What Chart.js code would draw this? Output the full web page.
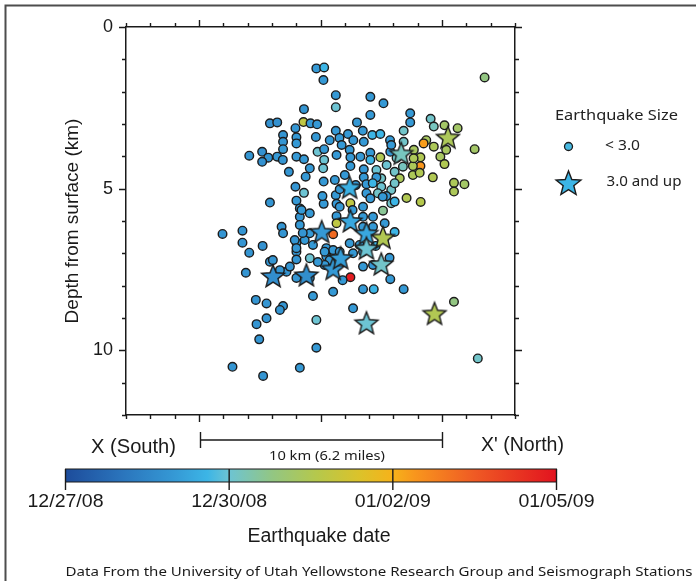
<!DOCTYPE html>
<html>
<head>
<meta charset="utf-8">
<script src="https://cdn.jsdelivr.net/npm/chart.js@4.4.1/dist/chart.umd.min.js"></script>
<style>
html, body { margin: 0; padding: 0; background: #fff; }
#wrap { position: relative; width: 696px; height: 581px; overflow: hidden; }
#quakeChart, #notes { position: absolute; left: 0; top: 0; }
</style>
</head>
<body>
<div id="wrap">
  <canvas id="quakeChart" width="696" height="581"></canvas>
  <svg id="notes" width="696" height="581" xmlns="http://www.w3.org/2000/svg"></svg>
</div>
<script>
// section from X (south) to X' (north), km along profile / depth in km
const xMin = -3, xMax = 13;
const depthMax = 12;
const depthTickValues = [0, 5, 10];

// date colour scale (days after 12/27/08)
const dateTickDays = [0, 3, 6, 9];
const dateTickLabels = ['12/27/08', '12/30/08', '01/02/09', '01/05/09'];
const colorStopDays = [0, 1, 2, 2.6, 3, 3.8, 4.6, 5.4, 6, 6.4, 7.5, 9];
const colorStopHex = ['#1d4c9b', '#2a73bb', '#3599d5', '#3cb5e6', '#6dc4d3', '#93c682',
                      '#b5c84c', '#dcc22a', '#f6b21a', '#f8961d', '#ef5a24', '#e2131f'];

// quakes below magnitude 3.0
const smallX = [4.83,5.15,5.12,11.75,5.63,7.05,5.63,7.59,4.32,7.05,
  8.69,9.53,2.92,3.22,4.30,4.59,4.86,3.97,6.50,8.69,
  9.66,10.10,10.64,3.46,4.01,5.63,6.13,6.74,7.13,7.46,
  8.42,5.78,6.35,6.78,7.86,3.46,4.01,9.35,9.24,8.42,
  2.07,2.60,2.85,3.22,2.60,3.46,4.01,4.32,4.88,5.15,
  5.15,5.66,6.20,6.23,6.64,7.05,7.46,7.87,8.84,9.11,
  9.93,10.17,11.34,10.10,9.11,8.80,8.39,4.56,5.11,6.23,
  6.78,8.05,8.80,9.08,9.62,8.26,4.39,5.13,6.78,7.50,
  10.49,10.92,10.49,3.97,7.50,7.91,4.32,5.63,6.89,7.36,
  7.71,2.92,4.01,5.13,5.66,6.23,6.75,7.05,7.91,8.54,
  9.12,7.57,4.15,4.15,5.66,6.75,7.16,7.64,5.66,3.40,
  4.15,0.97,1.79,1.79,2.07,2.62,3.46,4.01,4.01,4.01,
  4.35,4.56,4.69,4.56,5.52,6.20,6.75,7.16,6.34,6.75,
  5.24,5.52,5.24,2.92,3.60,1.93,6.23,6.75,7.16,7.87,
  6.75,7.19,8.42,5.52,4.69,2.34,2.78,3.46,3.33,2.78,
  2.37,4.83,6.34,10.49,2.48,4.83,1.38,2.64,4.15,11.47,
  5.79,7.30,7.30,8.05,7.05,5.08,6.89,8.83,9.66,7.91,
  4.22,4.56,4.27,3.94,4.01,5.17,5.38,5.17,5.79,6.61,
  6.32,5.79,7.56,8.05,3.04,3.33,3.74,4.01,4.56,4.89,
  5.91,7.27,7.84,8.05,5.87,5.38,4.81,6.00,5.59,6.45,
  7.15,7.72,8.13,3.70,3.45];
const smallDepth = [1.28,1.25,1.64,1.56,2.11,2.16,2.48,2.36,2.54,2.72,
  2.67,2.84,2.98,2.95,2.94,2.98,3.01,3.13,2.95,2.95,
  3.08,3.04,3.13,3.34,3.41,3.21,3.31,3.21,3.34,3.31,
  3.21,3.43,3.50,3.55,3.50,3.55,3.60,3.50,3.60,3.55,
  3.98,3.86,4.04,4.01,4.17,3.78,4.01,4.09,3.86,3.78,
  4.11,3.96,3.80,4.03,4.01,3.89,4.03,3.86,3.80,4.03,
  4.01,3.80,3.78,4.24,4.30,4.30,4.32,4.37,4.37,4.30,
  4.40,4.48,4.58,4.51,4.65,4.68,4.63,4.78,4.65,4.68,
  4.82,4.86,5.09,4.94,4.94,5.04,5.13,5.20,5.14,5.14,
  5.23,5.43,5.37,5.47,5.47,5.45,5.56,5.30,5.45,5.29,
  5.41,5.68,5.61,5.87,5.85,5.87,5.87,6.07,6.07,6.18,
  6.12,6.40,6.30,6.67,6.98,6.77,6.38,6.67,6.95,7.19,
  6.59,6.38,6.74,7.15,6.41,6.69,6.18,6.18,7.00,6.95,
  6.84,6.90,7.10,7.26,7.57,7.60,7.74,7.41,7.36,7.80,
  8.11,8.11,8.11,8.19,8.32,8.44,8.55,8.63,8.75,9.01,
  9.19,9.06,8.70,8.50,9.66,9.92,10.51,10.79,10.54,10.25,
  5.02,4.42,4.65,4.83,4.11,5.23,4.86,4.06,3.70,3.65,
  5.66,5.76,6.37,6.59,6.84,6.95,7.21,7.36,6.95,6.74,
  5.66,5.56,5.25,5.40,7.21,7.52,7.41,7.76,7.76,7.27,
  7.83,6.77,7.14,6.34,3.65,3.50,3.40,4.58,4.73,4.89,
  4.83,4.27,4.05,4.48,4.11];
const smallDate = [2.0,2.6,2.0,3.8,2.0,2.0,3.0,2.0,1.9,2.0,
  2.0,3.1,1.8,1.8,4.8,2.0,2.0,1.9,2.0,2.0,
  3.2,4.2,4.2,1.9,2.0,2.0,2.0,2.0,2.6,2.6,
  3.1,2.0,2.0,2.0,2.0,1.9,2.0,4.3,6.3,3.1,
  1.9,1.8,1.9,2.0,1.8,2.0,2.0,2.0,3.0,2.0,
  3.0,2.0,2.0,2.0,2.0,2.0,4.5,2.0,4.3,4.5,
  4.3,4.3,4.2,4.5,6.4,4.4,3.2,2.0,3.0,2.0,
  2.0,3.1,4.4,4.5,4.5,4.4,2.0,2.0,2.0,3.1,
  4.4,4.2,4.4,1.9,3.0,3.1,3.0,2.0,2.0,3.1,
  2.0,1.9,2.0,2.0,2.0,4.8,2.0,2.0,3.1,4.5,
  4.6,3.6,2.0,1.9,2.0,2.0,2.0,2.0,4.8,1.9,
  2.0,1.9,1.9,1.9,1.9,1.8,1.9,2.0,1.9,1.9,
  2.0,2.0,2.0,3.0,7.2,2.0,2.0,2.0,2.0,2.0,
  2.0,2.0,2.0,1.9,1.9,1.9,8.8,2.0,2.0,2.0,
  2.0,2.6,2.0,2.0,2.0,1.9,1.9,1.9,1.9,1.9,
  1.9,3.0,2.0,3.8,1.9,2.0,1.9,1.9,2.0,3.1,
  2.0,3.0,2.0,3.1,2.6,2.0,2.0,4.4,4.4,2.0,
  2.0,2.0,1.9,1.9,1.9,2.0,2.0,2.0,2.0,2.0,
  2.0,2.0,2.0,2.6,1.9,1.9,1.9,1.9,2.0,2.0,
  2.0,2.6,2.0,2.6,2.0,2.0,2.0,2.0,2.0,2.0,
  2.6,3.0,3.1,1.9,1.9];

// quakes of magnitude 3.0 and up
const bigX = [10.24,8.32,6.20,6.23,5.05,6.89,7.57,6.89,7.50,5.52,5.83,4.42,3.05,6.89,9.69];
const bigDepth = [3.41,3.91,4.96,6.00,6.33,6.38,6.51,6.84,7.33,7.47,7.14,7.67,7.70,9.15,8.86];
const bigDate = [4.4,3.2,2.5,2.3,2.0,2.3,4.5,3.0,3.1,2.0,2.1,1.7,1.7,3.0,4.5];

const sansFont = '"Liberation Sans", Arial, sans-serif';
const humanFont = '"Noto Sans", "Open Sans", sans-serif';

function hexToRgb(h) {
    return [parseInt(h.slice(1, 3), 16), parseInt(h.slice(3, 5), 16), parseInt(h.slice(5, 7), 16)];
}

function dateColor(d) {
    for (let i = 1; i < colorStopDays.length; i++) {
        if (d <= colorStopDays[i]) {
            const t = (d - colorStopDays[i - 1]) / (colorStopDays[i] - colorStopDays[i - 1]);
            const a = hexToRgb(colorStopHex[i - 1]);
            const b = hexToRgb(colorStopHex[i]);
            const c = a.map((v, k) => Math.round(v + (b[k] - v) * t));
            return `rgb(${c[0]},${c[1]},${c[2]})`;
        }
    }
    return colorStopHex[colorStopHex.length - 1];
}

function starPoints(cx, cy, R, r) {
    let pts = [];
    for (let i = 0; i < 10; i++) {
        const ang = -Math.PI / 2 + i * Math.PI / 5;
        const rad = i % 2 ? r : R;
        pts.push([cx + rad * Math.cos(ang), cy + rad * Math.sin(ang)]);
    }
    return pts;
}

const starCache = {};
function starImage(color) {
    if (starCache[color]) return starCache[color];
    const R = 12, size = 2 * R + 6;
    const cv = document.createElement('canvas');
    cv.width = size;
    cv.height = size;
    const c = cv.getContext('2d');
    c.beginPath();
    starPoints(size / 2, size / 2 + 1, R, 5.2).forEach((p, i) => {
        if (i == 0) c.moveTo(p[0], p[1]); else c.lineTo(p[0], p[1]);
    });
    c.closePath();
    c.fillStyle = color;
    c.fill();
    c.lineJoin = 'miter';
    c.lineWidth = 1.4;
    c.strokeStyle = '#1c1c1c';
    c.stroke();
    starCache[color] = cv;
    return cv;
}

// outward tick marks on all four sides, longer every 5 km
const frameTicks = {
    id: 'frameTicks',
    afterDraw(chart) {
        const {ctx, chartArea: a, scales} = chart;
        ctx.save();
        ctx.strokeStyle = '#1a1a1a';
        ctx.lineWidth = 1.4;
        ctx.beginPath();
        for (let v = xMin; v <= xMax; v++) {
            const px = Math.round(scales.x.getPixelForValue(v)) + 0.5;
            const len = v % 5 === 0 ? 7 : 4;
            ctx.moveTo(px, a.bottom);
            ctx.lineTo(px, a.bottom + len);
            ctx.moveTo(px, a.top);
            ctx.lineTo(px, a.top - len);
        }
        for (let v = 0; v <= depthMax; v++) {
            const py = Math.round(scales.y.getPixelForValue(v)) + 0.5;
            const len = v % 5 === 0 ? 7 : 4;
            ctx.moveTo(a.left, py);
            ctx.lineTo(a.left - len, py);
            ctx.moveTo(a.right, py);
            ctx.lineTo(a.right + len, py);
        }
        ctx.stroke();
        ctx.restore();
    }
};

const plainAxis = (pos, fit) => ({
    type: 'linear',
    position: pos,
    grid: {display: false, drawTicks: false, tickLength: 0},
    border: {display: true, color: '#1a1a1a', width: 1.5},
    afterFit: fit
});

const xAxis = plainAxis('bottom', s => { s.height = 166; });
Object.assign(xAxis, {min: xMin, max: xMax, ticks: {display: false}});
const xTop = plainAxis('top', s => { s.height = 27; });
Object.assign(xTop, {min: xMin, max: xMax, ticks: {display: false}});
const yAxis = plainAxis('left', s => { s.width = 126; });
Object.assign(yAxis, {
    min: 0, max: depthMax, reverse: true,
    afterBuildTicks: s => { s.ticks = depthTickValues.map(v => ({value: v})); },
    ticks: {padding: 13, color: '#1a1a1a', font: {family: sansFont, size: 18}},
    title: {display: true, text: 'Depth from surface (km)', color: '#1a1a1a',
            font: {family: sansFont, size: 19}, padding: {top: 61, bottom: 0}}
});
const yRight = plainAxis('right', s => { s.width = 181; });
Object.assign(yRight, {min: 0, max: depthMax, reverse: true, ticks: {display: false}});

const ctx = document.getElementById('quakeChart').getContext('2d');
const quakeChart = new Chart(ctx, {
    type: 'scatter',
    data: {
        datasets: [
            {
                label: '3.0 and up',
                data: bigX.map((x, i) => ({x: x, y: bigDepth[i]})),
                pointStyle: c => starImage(dateColor(bigDate[c.dataIndex])),
                pointRadius: 12,
                pointHoverRadius: 12
            },
            {
                label: '< 3.0',
                data: smallX.map((x, i) => ({x: x, y: smallDepth[i]})),
                pointStyle: 'circle',
                pointRadius: 4.3,
                pointHoverRadius: 4.3,
                borderWidth: 1.4,
                pointBorderColor: '#1c1c1c',
                pointBackgroundColor: c => dateColor(smallDate[c.dataIndex])
            }
        ]
    },
    options: {
        responsive: false,
        animation: false,
        layout: {padding: 0},
        plugins: {legend: {display: false}, tooltip: {enabled: false}},
        scales: {x: xAxis, x2: xTop, y: yAxis, y2: yRight}
    },
    plugins: [frameTicks]
});

// annotations around the plot: frame, legend, section labels, scale bar, date colour bar
const cbLeft = 65.5, cbWidth = 491, cbTop = 469, cbHeight = 13;
const cbX = d => cbLeft + d / dateTickDays[dateTickDays.length - 1] * cbWidth;
let svg = '';
svg += `<defs><linearGradient id="dateGrad" x1="0" x2="1" y1="0" y2="0">`;
colorStopDays.forEach((d, i) => {
    svg += `<stop offset="${d / 9}" stop-color="${colorStopHex[i]}"/>`;
});
svg += `</linearGradient></defs>`;
svg += `<path d="M5.5 581 V5.5 H696" fill="none" stroke="#4d4d4d" stroke-width="2"/>`;

svg += `<text x="555" y="120" font-family='${humanFont}' font-size="14" fill="#222" textLength="123" lengthAdjust="spacingAndGlyphs">Earthquake Size</text>`;
svg += `<circle cx="568.5" cy="146.5" r="4" fill="${dateColor(2.7)}" stroke="#1c1c1c" stroke-width="1.3"/>`;
svg += `<text x="605" y="150" font-family='${humanFont}' font-size="14" fill="#222" textLength="35" lengthAdjust="spacingAndGlyphs">&lt; 3.0</text>`;
const legendStar = starPoints(568.5, 184, 13, 5.6).map(p => p[0].toFixed(1) + ',' + p[1].toFixed(1)).join(' ');
svg += `<polygon points="${legendStar}" fill="${dateColor(2.6)}" stroke="#1c1c1c" stroke-width="1.4"/>`;
svg += `<text x="606.5" y="186" font-family='${humanFont}' font-size="14" fill="#222" textLength="75" lengthAdjust="spacingAndGlyphs">3.0 and up</text>`;

svg += `<text x="91" y="453" font-family='${sansFont}' font-size="19.5" fill="#1a1a1a" textLength="85" lengthAdjust="spacingAndGlyphs">X (South)</text>`;
svg += `<text x="481" y="451" font-family='${sansFont}' font-size="19.5" fill="#1a1a1a" textLength="83" lengthAdjust="spacingAndGlyphs">X' (North)</text>`;
svg += `<path d="M200.5 432 V448 M200.5 440 H442.5 M442.5 432 V448" fill="none" stroke="#1a1a1a" stroke-width="1.4"/>`;
svg += `<text x="269" y="460" font-family='${humanFont}' font-size="12.5" fill="#1a1a1a" textLength="116" lengthAdjust="spacingAndGlyphs">10 km (6.2 miles)</text>`;

svg += `<rect x="${cbLeft}" y="${cbTop}" width="${cbWidth}" height="${cbHeight}" fill="url(#dateGrad)" stroke="#1a1a1a" stroke-width="1"/>`;
dateTickDays.forEach((d, i) => {
    const px = cbX(d);
    svg += `<line x1="${px}" x2="${px}" y1="${cbTop}" y2="${cbTop + cbHeight + 8}" stroke="#1a1a1a" stroke-width="1.4"/>`;
    svg += `<text x="${px}" y="507" text-anchor="middle" font-family='${sansFont}' font-size="19" fill="#1a1a1a" textLength="76" lengthAdjust="spacingAndGlyphs">${dateTickLabels[i]}</text>`;
});
svg += `<text x="319" y="542" text-anchor="middle" font-family='${sansFont}' font-size="19.5" fill="#1a1a1a">Earthquake date</text>`;
svg += `<text x="65.5" y="576" font-family='${humanFont}' font-size="13" fill="#1a1a1a" textLength="627" lengthAdjust="spacingAndGlyphs">Data From the University of Utah Yellowstone Research Group and Seismograph Stations</text>`;
document.getElementById('notes').innerHTML = svg;
</script>
</body>
</html>
